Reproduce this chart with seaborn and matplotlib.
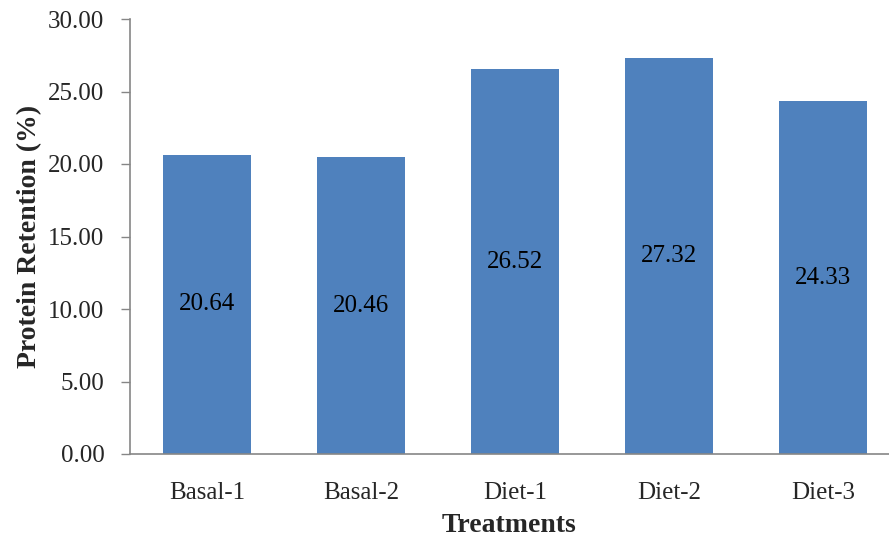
import matplotlib
matplotlib.use("Agg")
import matplotlib.pyplot as plt
import seaborn as sns
import pandas as pd

treatments = ["Basal-1", "Basal-2", "Diet-1", "Diet-2", "Diet-3"]
retention = [20.64, 20.46, 26.52, 27.32, 24.33]
y_ticks = [0, 5, 10, 15, 20, 25, 30]

df = pd.DataFrame({"Treatments": treatments, "Retention": retention})

sns.set_style("white")
plt.rcParams["font.family"] = ["Liberation Serif", "DejaVu Serif"]

W, H = 889, 538
fig = plt.figure(figsize=(W / 100, H / 100), dpi=100)
left, right, bottom, top = 130, 889, 454, 19
ax = fig.add_axes([left / W, (H - bottom) / H, (right - left) / W, (bottom - top) / H])

sns.barplot(data=df, x="Treatments", y="Retention", color="#4F81BD",
            saturation=1, width=0.571, ax=ax, edgecolor="none")

ax.set_xlim(-0.5, -0.5 + (right - left) / 154)
ax.set_ylim(0, 30)
ax.set_yticks(y_ticks)
ax.set_yticklabels([f"{v:.2f}" for v in y_ticks], fontsize=18)
ax.tick_params(axis="y", length=6.5, color="#868686", width=1, pad=12, direction="out", left=True)
ax.tick_params(axis="x", length=0, labelsize=18, pad=20)

for s in ["top", "right"]:
    ax.spines[s].set_visible(False)
for s in ["left", "bottom"]:
    ax.spines[s].set_color("#868686")
    ax.spines[s].set_linewidth(1.2)

for i, v in enumerate(retention):
    ax.text(i, v / 2, f"{v:.2f}", ha="center", va="center", fontsize=18, color="black")

ax.set_xlabel("Treatments", fontsize=20, fontweight="bold", labelpad=7)
ax.set_ylabel("Protein Retention (%)", fontsize=20, fontweight="bold", labelpad=4)

fig.savefig("out.png", dpi=100)
